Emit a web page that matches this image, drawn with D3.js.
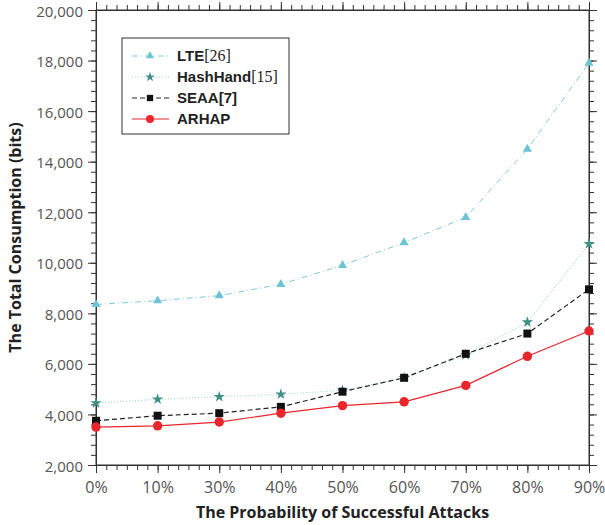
<!DOCTYPE html>
<html>
<head>
<meta charset="utf-8">
<script src="https://cdn.jsdelivr.net/npm/d3@7"></script>
<style>
  body { margin: 0; background: #fff; }
  svg { display: block; }
  .tick text { font-family: "Open Sans", sans-serif; font-size: 16px; fill: #555; }
  .axis path, .axis line { stroke: #333; }
  .title { font-family: "Open Sans", sans-serif; font-weight: bold; font-size: 16px; fill: #222; }
</style>
</head>
<body>
<div id="vis"></div>
<script>
var categories = ['0%', '10%', '30%', '40%', '50%', '60%', '70%', '80%', '90%'];
var lte      = [8350, 8500, 8700, 9150, 9900, 10800, 11800, 14500, 17900];
var hashHand = [4450, 4600, 4700, 4800, 4950, 5450, 6350, 7650, 10750];
var seaa     = [3750, 3950, 4050, 4300, 4900, 5450, 6400, 7200, 8950];
var arhap    = [3500, 3550, 3700, 4050, 4350, 4500, 5150, 6300, 7300];
var yTicks   = [2000, 4000, 6000, 8000, 10000, 12000, 14000, 16000, 18000, 20000];

var series = [
  {name: 'LTE', ref: '[26]', values: lte, color: '#7ccbd8', marker: '#6cc3d3', dash: '6,3,1,3', width: 1, shape: d3.symbolTriangle, size: 36, legendSize: 28},
  {name: 'HashHand', ref: '[15]', values: hashHand, color: '#a6d8bf', marker: '#3f8f86', dash: '1,2', width: 1.2, shape: d3.symbolStar, size: 40, legendSize: 30},
  {name: 'SEAA[7]', ref: '', values: seaa, color: '#222', marker: '#111', dash: '5,3', width: 1.2, shape: d3.symbolSquare, size: 64, legendSize: 40},
  {name: 'ARHAP', ref: '', values: arhap, color: '#e8262c', marker: '#e8262c', dash: null, width: 1.2, shape: d3.symbolCircle, size: 70, legendSize: 50}
];

var width = 605, height = 525,
    margin = {top: 10, right: 16, bottom: 60, left: 96},
    drawWidth = width - margin.left - margin.right,
    drawHeight = height - margin.top - margin.bottom;

var svg = d3.select('#vis').append('svg')
    .attr('width', width)
    .attr('height', height);

var g = svg.append('g')
    .attr('transform', 'translate(' + margin.left + ',' + margin.top + ')');

var xScale = d3.scalePoint().domain(categories).range([0, drawWidth]);
var yScale = d3.scaleLinear().domain([2000, 20000]).range([drawHeight, 0]);

// minor ticks (5 between x categories, 4 between y ticks)
var xLin = d3.scaleLinear().domain([0, categories.length - 1]).range([0, drawWidth]);
var xMinor = d3.range(0, (categories.length - 1) * 6 + 1).map(function(i) { return i / 6; });
var yMinor = d3.range(2000, 20001, 400);

function minorX(sel, dir) {
  sel.call(dir(xLin).tickValues(xMinor).tickSize(5).tickFormat(''))
    .call(function(s) { s.select('.domain').remove(); });
}
function minorY(sel, dir) {
  sel.call(dir(yScale).tickValues(yMinor).tickSize(5).tickFormat(''))
    .call(function(s) { s.select('.domain').remove(); });
}

g.append('g').attr('class', 'axis').attr('transform', 'translate(0,' + drawHeight + ')').call(minorX, d3.axisBottom);
g.append('g').attr('class', 'axis').call(minorX, d3.axisTop);
g.append('g').attr('class', 'axis').call(minorY, d3.axisLeft);
g.append('g').attr('class', 'axis').attr('transform', 'translate(' + drawWidth + ',0)').call(minorY, d3.axisRight);

g.append('g').attr('class', 'axis')
    .attr('transform', 'translate(0,' + drawHeight + ')')
    .call(d3.axisBottom(xScale).tickSize(8).tickSizeOuter(0).tickPadding(6))
    .selectAll('text').attr('dy', '0.85em');

g.append('g').attr('class', 'axis')
    .call(d3.axisLeft(yScale).tickValues(yTicks).tickSize(8).tickSizeOuter(0).tickPadding(5).tickFormat(d3.format(',')))
    .selectAll('text').style('font-size', '15px').attr('dy', '0.4em');

g.append('g').attr('class', 'axis')
    .call(d3.axisTop(xScale).tickSize(8).tickSizeOuter(0).tickFormat(''));

g.append('g').attr('class', 'axis')
    .attr('transform', 'translate(' + drawWidth + ',0)')
    .call(d3.axisRight(yScale).tickValues(yTicks).tickSize(8).tickSizeOuter(0).tickFormat(''));

g.append('rect')
    .attr('width', drawWidth).attr('height', drawHeight)
    .attr('fill', 'none').attr('stroke', '#333');

var line = d3.line()
    .x(function(d, i) { return xScale(categories[i]); })
    .y(function(d) { return yScale(d); });

series.forEach(function(s) {
  g.append('path')
      .datum(s.values)
      .attr('d', line)
      .attr('fill', 'none')
      .attr('stroke', s.color)
      .attr('stroke-width', s.width)
      .attr('stroke-dasharray', s.dash);

  g.selectAll(null)
      .data(s.values)
      .enter().append('path')
      .attr('d', d3.symbol().type(s.shape).size(s.size))
      .attr('transform', function(d, i) { return 'translate(' + xScale(categories[i]) + ',' + yScale(d) + ')'; })
      .attr('fill', s.marker);
});

// legend
var legend = svg.append('g').attr('transform', 'translate(122,38)');
legend.append('rect')
    .attr('width', 167).attr('height', 96)
    .attr('fill', '#fff').attr('stroke', '#333');

series.forEach(function(s, i) {
  var row = legend.append('g').attr('transform', 'translate(0,' + (18 + i * 21) + ')');
  row.append('line')
      .attr('x1', 10).attr('x2', 47)
      .attr('stroke', s.color)
      .attr('stroke-width', s.width)
      .attr('stroke-dasharray', s.dash);
  row.append('path')
      .attr('d', d3.symbol().type(s.shape).size(s.legendSize))
      .attr('transform', 'translate(28,0)')
      .attr('fill', s.marker);
  var t = row.append('text')
      .attr('x', 55).attr('dy', '0.36em')
      .style('font-size', '15px')
      .style('fill', '#222');
  t.append('tspan')
      .style('font-family', '"Liberation Sans", Arial, sans-serif')
      .style('font-weight', 'bold')
      .text(s.name);
  t.append('tspan')
      .style('font-family', '"Liberation Serif", "Times New Roman", serif')
      .style('font-size', '16px')
      .text(s.ref);
});

svg.append('text')
    .attr('class', 'title')
    .attr('text-anchor', 'middle')
    .attr('x', margin.left + drawWidth / 2)
    .attr('y', 518)
    .text('The Probability of Successful Attacks');

svg.append('text')
    .attr('class', 'title')
    .attr('text-anchor', 'middle')
    .attr('transform', 'translate(21,' + (margin.top + drawHeight / 2) + ') rotate(-90)')
    .text('The Total Consumption (bits)');
</script>
</body>
</html>
